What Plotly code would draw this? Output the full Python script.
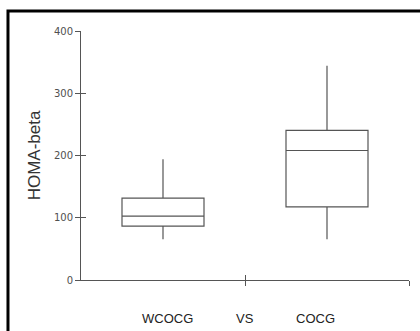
import plotly.graph_objects as go

# Data
groups = ["WCOCG", "COCG"]
group_pos = [0.5, 1.5]
lower = [65.4, 65.4]
q1 = [86.4, 117.5]
median = [102.5, 208.0]
q3 = [131.6, 240.4]
upper = [194.0, 344.0]

label_text = ["WCOCG", "VS", "COCG"]
label_pos = [0.53, 1.0, 1.43]

ytick_vals = [0, 100, 200, 300, 400]
xtick_vals = [1, 2]

line_col = "#555555"

fig = go.Figure()
for i, g in enumerate(groups):
    fig.add_trace(go.Box(
        x=[group_pos[i]], q1=[q1[i]], median=[median[i]], q3=[q3[i]],
        lowerfence=[lower[i]], upperfence=[upper[i]],
        name=g, width=0.5, whiskerwidth=0,
        line=dict(color=line_col, width=1.2),
        fillcolor="rgba(255,255,255,0)",
        boxpoints=False, showlegend=False, hoverinfo="skip",
    ))

# dummy trace to activate overlay axes (for crossing ticks)
fig.add_trace(go.Scatter(x=[None], y=[None], xaxis="x2", yaxis="y2",
                         showlegend=False, hoverinfo="skip"))

axis_font = dict(family="DejaVu Sans", size=10, color="#505050")

fig.update_layout(
    width=420, height=331,
    margin=dict(l=81, r=11, t=31, b=51),
    paper_bgcolor="white", plot_bgcolor="white",
    xaxis=dict(range=[0, 2], tickvals=xtick_vals, ticks="outside", ticklen=5,
               tickcolor=line_col, showticklabels=False, showgrid=False,
               zeroline=False, showline=True, linecolor=line_col, linewidth=1),
    xaxis2=dict(range=[0, 2], overlaying="x", anchor="y", side="bottom",
                tickvals=xtick_vals, ticks="inside", ticklen=5, tickcolor=line_col,
                showticklabels=False, showgrid=False, zeroline=False, showline=False),
    yaxis=dict(range=[0, 400], tickvals=ytick_vals, ticks="outside", ticklen=5,
               tickcolor=line_col, tickfont=axis_font, showgrid=False,
               zeroline=False, showline=True, linecolor=line_col, linewidth=1,
               title=dict(text="HOMA-beta", standoff=8,
                          font=dict(family="Liberation Sans", size=17, color="#333333"))),
    yaxis2=dict(range=[0, 400], overlaying="y", anchor="x", side="left",
                tickvals=ytick_vals, ticks="inside", ticklen=5, tickcolor=line_col,
                showticklabels=False, showgrid=False, zeroline=False, showline=False),
)

for t, p in zip(label_text, label_pos):
    fig.add_annotation(x=p, xref="x", y=-0.153, yref="paper", text=t,
                       showarrow=False, yanchor="middle",
                       font=dict(family="Liberation Sans", size=13, color="#222222"))

# outer frame
fig.add_shape(type="rect", xref="paper", yref="paper",
              x0=-0.2226, x1=1.5, y0=-0.6, y1=1.0803,
              line=dict(color="black", width=3), fillcolor="rgba(0,0,0,0)")

fig.write_html("out.html")
